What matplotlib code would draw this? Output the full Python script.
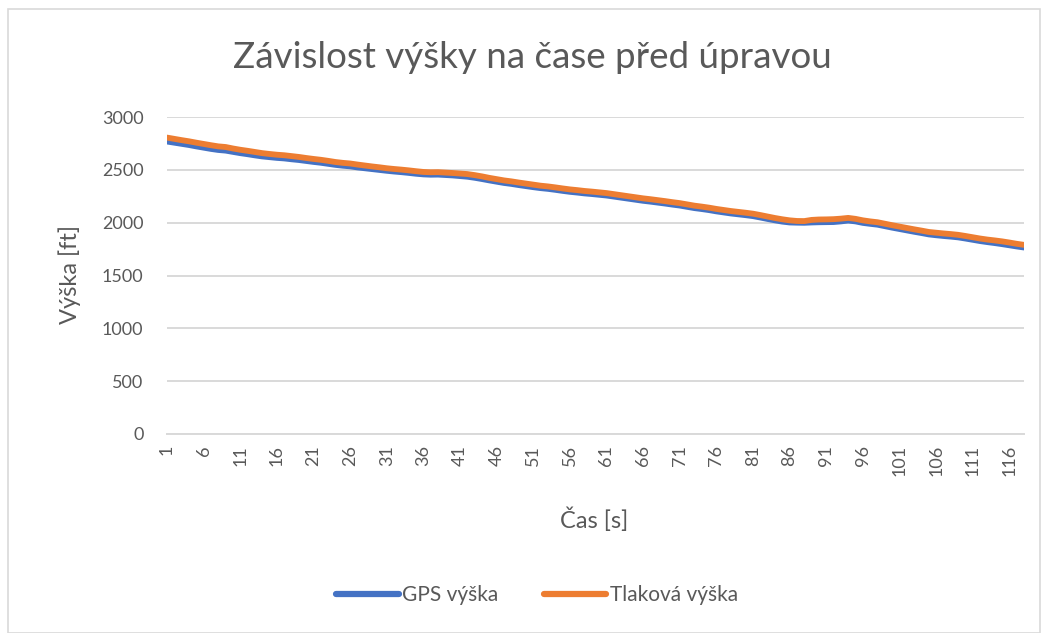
import matplotlib
matplotlib.use("Agg")
import matplotlib.pyplot as plt
from matplotlib.patches import Rectangle

# ---- data ----
time_s = list(range(1, 119))
gps_vyska = [
    2768, 2757, 2746, 2735, 2722, 2710, 2698, 2688, 2682, 2670,
    2658, 2648, 2637, 2627, 2620, 2613, 2608, 2600, 2593, 2584,
    2575, 2567, 2557, 2547, 2539, 2533, 2523, 2515, 2507, 2499,
    2491, 2484, 2478, 2471, 2463, 2457, 2454, 2455, 2451, 2447,
    2441, 2435, 2425, 2413, 2400, 2388, 2376, 2367, 2356, 2346,
    2336, 2327, 2320, 2311, 2301, 2292, 2285, 2277, 2271, 2264,
    2257, 2247, 2237, 2227, 2217, 2207, 2199, 2190, 2181, 2171,
    2162, 2150, 2138, 2129, 2119, 2107, 2097, 2087, 2079, 2071,
    2062, 2049, 2035, 2022, 2010, 2002, 2000, 1999, 2002, 2004,
    2005, 2006, 2012, 2020, 2012, 1998, 1989, 1981, 1967, 1953,
    1940, 1927, 1914, 1902, 1889, 1881, 1874, 1868, 1861, 1850,
    1838, 1826, 1816, 1807, 1797, 1786, 1775, 1765,
]
tlakova_vyska = [
    2805, 2793, 2781, 2770, 2757, 2745, 2733, 2722, 2716, 2702,
    2690, 2680, 2669, 2658, 2650, 2643, 2638, 2630, 2622, 2612,
    2603, 2595, 2585, 2574, 2566, 2560, 2550, 2541, 2532, 2524,
    2515, 2508, 2502, 2495, 2487, 2480, 2477, 2478, 2474, 2470,
    2465, 2460, 2450, 2438, 2424, 2412, 2400, 2391, 2380, 2370,
    2360, 2350, 2343, 2334, 2324, 2315, 2308, 2300, 2294, 2287,
    2280, 2270, 2260, 2250, 2240, 2230, 2222, 2213, 2204, 2194,
    2185, 2173, 2161, 2152, 2142, 2130, 2120, 2110, 2102, 2094,
    2085, 2072, 2058, 2044, 2032, 2022, 2016, 2015, 2026, 2030,
    2031, 2033, 2038, 2045, 2036, 2022, 2012, 2004, 1990, 1976,
    1963, 1950, 1937, 1925, 1912, 1905, 1898, 1892, 1885, 1874,
    1862, 1850, 1840, 1832, 1823, 1812, 1800, 1790,
]
y_ticks = [0, 500, 1000, 1500, 2000, 2500, 3000]
x_tick_vals = list(range(1, 117, 5))

title = "Závislost výšky na čase před úpravou"
x_label = "Čas [s]"
y_label = "Výška [ft]"
series_names = ["GPS výška", "Tlaková výška"]

# ---- style ----
plt.rcParams['font.family'] = ['Lato', 'DejaVu Sans']
TXT = "#595959"
GRID = "#d9d9d9"
BLUE = "#4472C4"
ORANGE = "#ED7D31"

W, H = 1044, 633
fig = plt.figure(figsize=(W / 100, H / 100), dpi=100)
fig.patch.set_facecolor("white")

# outer chart border
fig.patches.append(Rectangle((8 / W, 0.0), (1040 - 8) / W, (H - 9) / H,
                             transform=fig.transFigure, fill=False,
                             edgecolor=GRID, linewidth=1.2))

left, right = 167 / W, 1024 / W
top, bottom = (H - 117) / H, (H - 434) / H
ax = fig.add_axes([left, bottom, right - left, top - bottom])

ax.plot(time_s, gps_vyska, color=BLUE, linewidth=4.2, solid_capstyle="round",
        label=series_names[0], zorder=3)
ax.plot(time_s, tlakova_vyska, color=ORANGE, linewidth=4.2, solid_capstyle="round",
        label=series_names[1], zorder=4)

ax.set_xlim(1, 118)
ax.set_ylim(0, 3000)
ax.set_yticks(y_ticks)
ax.set_yticklabels([str(v) for v in y_ticks])
ax.set_xticks(x_tick_vals)
ax.set_xticklabels([str(v) for v in x_tick_vals], rotation=90)

ax.grid(axis="y", color=GRID, linewidth=1.4)
ax.set_axisbelow(True)
for s in ["left", "right", "top"]:
    ax.spines[s].set_visible(False)
ax.spines["bottom"].set_color(GRID)
ax.spines["bottom"].set_linewidth(1.4)
ax.tick_params(axis="both", length=0, colors=TXT, labelsize=13)
ax.tick_params(axis="y", pad=17)
ax.tick_params(axis="x", pad=8)

fig.text(532 / W, 1 - 58 / H, title, ha="center", va="center",
         fontsize=26.5, color=TXT)
fig.text(70 / W, 1 - 275 / H, y_label, ha="center", va="center",
         rotation=90, fontsize=17, color=TXT)
fig.text(594 / W, 1 - 520 / H, x_label, ha="center", va="center",
         fontsize=17, color=TXT)

leg = fig.legend(loc="center", bbox_to_anchor=(537 / W, 1 - 595 / H),
                 ncol=2, frameon=False, fontsize=15, handlelength=3.0,
                 handletextpad=0.15, columnspacing=2.2)
for t in leg.get_texts():
    t.set_color(TXT)
for h in leg.get_lines():
    h.set_linewidth(4.5)

fig.savefig("out.png", dpi=100)
